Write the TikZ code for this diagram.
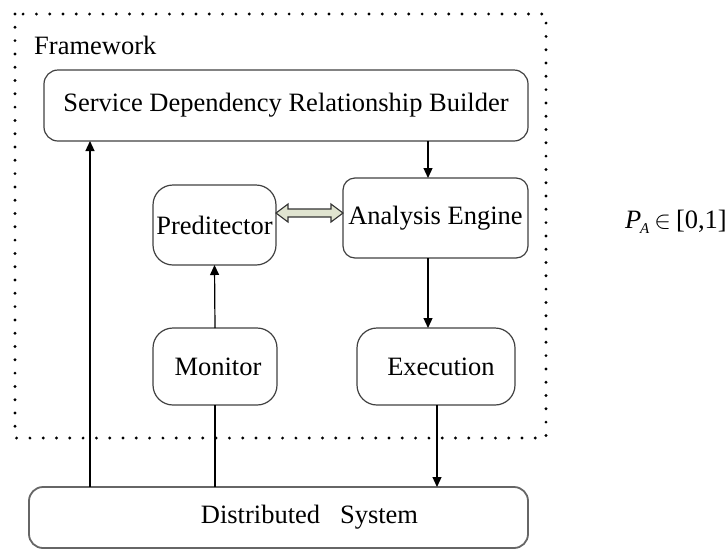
\documentclass[tikz,border=0pt]{standalone}
\usepackage{fontspec}
\setmainfont{Liberation Serif}
\usetikzlibrary{arrows.meta,calc}
\begin{document}
\begin{tikzpicture}[x=1pt,y=-1pt,
  box/.style={draw=black!75, line width=1.2pt, rounded corners=14pt, inner sep=0pt, outer sep=0pt,
    font=\fontsize{26.5}{30}\selectfont},
  arr/.style={draw=black, line width=1.2pt, -{Triangle[length=10pt,width=9pt]}},
  plain/.style={draw=black, line width=1.2pt},
  lbl/.style={font=\fontsize{26.5}{30}\selectfont, inner sep=0pt}]
\useasboundingbox (0,0) rectangle (728,550);
% dotted framework
\draw[line width=3.2pt, line cap=round, dash pattern=on 0pt off 13.3pt] (15,14) rectangle (546,438);
\node[lbl, anchor=west] (fw) at (34,45) {Framework};
% boxes
\node[box, minimum width=484pt, minimum height=71pt] (sdrb) at (286,105.5) {Service Dependency Relationship Builder};
\node[box, minimum width=123pt, minimum height=80pt, rounded corners=20pt] (pred) at (214.5,225) {Preditector};
\node[box, minimum width=185pt, minimum height=80pt, rounded corners=12pt] (ae) at (435.5,218) {\raisebox{4pt}{Analysis Engine}};
\node[box, minimum width=124pt, minimum height=77pt, rounded corners=20pt] (mon) at (215,366.5) {\hspace*{6pt}Monitor};
\node[box, minimum width=158pt, minimum height=77pt, rounded corners=20pt] (exe) at (436,366.5) {\hspace*{10pt}Execution};
\node[box, minimum width=499pt, minimum height=61pt, line width=1.8pt, draw=black!60, rounded corners=14pt] (ds) at (278.5,517.5) {\hspace*{62pt}Distributed\ \ \ System};
\node[lbl, anchor=east] (formula) at (727,222) {\textit{P}\hspace{-1pt}\raisebox{-5pt}{\fontsize{15}{15}\selectfont\textit{A}}\hspace{5pt}$\in$\hspace{5pt}[0,1]};
% helper x positions
\coordinate (lx) at (90,0);
\coordinate (cx) at (428,0);
\coordinate (ex) at (437,0);
% connectors
\draw[arr] (ds.north -| lx) -- (sdrb.south -| lx);
\draw[plain] (ds.north -| mon) -- (mon.south);
\draw[arr] (mon.north) -- (pred.south);
\draw[arr] (sdrb.south -| cx) -- (ae.north -| cx);
\draw[arr] (ae.south -| cx) -- (exe.north -| cx);
\draw[arr] (exe.south -| ex) -- (ds.north -| ex);
% double arrow between Preditector and Analysis Engine
\coordinate (L) at ($(pred.east)+(0,-12)$);
\coordinate (R) at ($(ae.west)+(0,-5)$);
\draw[line width=1.1pt, draw=black!80, fill={rgb,255:red,224;green,228;blue,208}, line join=miter]
  (L) -- ++(12,-9) -- ++(0,5) -- ($(R)+(-12,-4)$) -- ++(0,-5) -- (R)
  -- ++(-12,9) -- ++(0,-5) -- ($(L)+(12,4)$) -- ++(0,5) -- cycle;
\end{tikzpicture}
\end{document}
